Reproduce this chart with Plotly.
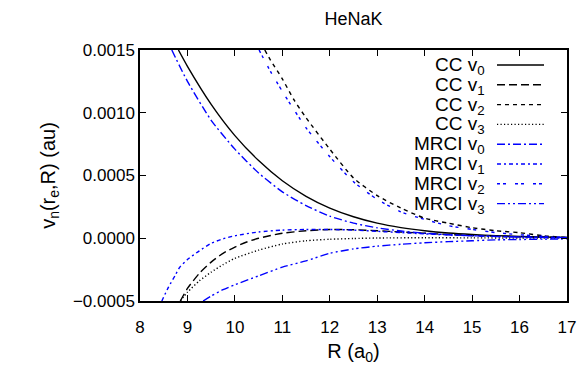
import plotly.graph_objects as go

# ---- data ----
R_cc0 = [8.81, 9.0, 9.5, 10.0, 10.5, 11.0, 11.5, 12.0, 12.5, 13.0, 13.5, 14.0, 14.5, 15.0, 15.5, 16.0, 16.5, 17.0]
v_cc0 = [0.0015, 0.00137, 0.001067, 0.000818, 0.000619, 0.000458, 0.000334, 0.00024, 0.000171, 0.00012, 0.000085, 0.00006, 0.000042, 0.00003, 0.000021, 0.000015, 0.00001, 0.000007]

R_cc1 = [8.85, 9.0, 9.25, 9.5, 9.75, 10.0, 10.25, 10.5, 11.0, 11.5, 12.0, 12.5, 13.0, 13.5, 14.0, 14.5, 15.0, 16.0, 17.0]
v_cc1 = [-0.0005, -0.0004, -0.00028, -0.00019, -0.00012, -0.00007, -0.00003, 0.0, 0.00004, 0.00006, 0.00007, 0.000068, 0.00006, 0.00005, 0.00004, 0.00003, 0.000022, 0.000012, 0.000006]

R_cc2 = [10.63, 10.75, 11.0, 11.25, 11.5, 12.0, 12.5, 13.0, 13.5, 14.0, 14.5, 15.0, 15.5, 16.0, 16.5, 17.0]
v_cc2 = [0.0015, 0.00142, 0.00127, 0.0011, 0.00096, 0.00071, 0.00048, 0.00034, 0.00024, 0.00016, 0.00012, 0.000084, 0.00006, 0.000044, 0.00002, 0.000005]

R_cc3 = [8.85, 9.0, 9.25, 9.5, 9.75, 10.0, 10.5, 11.0, 11.5, 12.0, 12.5, 13.0, 14.0, 15.0, 16.0, 17.0]
v_cc3 = [-0.0005, -0.00043, -0.00034, -0.00027, -0.00021, -0.00016, -0.000095, -0.000046, -0.00002, -0.000008, -0.000002, 0.000002, 0.000004, 0.000003, 0.000002, 0.000001]

R_mr0 = [8.67, 9.0, 9.5, 10.0, 10.5, 11.0, 11.5, 12.0, 12.5, 13.0, 13.5, 14.0, 14.5, 15.0, 15.5, 16.0, 16.5, 17.0]
v_mr0 = [0.0015, 0.00125, 0.00094, 0.00071, 0.00052, 0.00037, 0.00026, 0.000176, 0.00012, 0.000083, 0.000058, 0.00004, 0.000028, 0.00002, 0.000014, 0.00001, 0.000007, 0.000005]

R_mr1 = [8.46, 8.6, 8.75, 8.84, 9.0, 9.25, 9.5, 9.75, 10.0, 10.5, 11.0, 11.5, 12.0, 12.5, 13.0, 13.5, 14.0, 15.0, 16.0, 17.0]
v_mr1 = [-0.0005, -0.00039, -0.00029, -0.00023, -0.00017, -0.0001, -0.00004, -0.000005, 0.00002, 0.00005, 0.000065, 0.00007, 0.00007, 0.000065, 0.000055, 0.000045, 0.000035, 0.00002, 0.00001, 0.000005]

R_mr2 = [10.51, 10.75, 11.0, 11.5, 12.0, 12.5, 13.0, 13.5, 14.0, 14.5, 15.0, 15.5, 16.0, 16.5, 17.0]
v_mr2 = [0.0015, 0.00133, 0.00117, 0.00088, 0.00065, 0.00045, 0.00031, 0.00021, 0.00015, 0.0001, 0.00007, 0.000045, 0.000028, 0.000015, 0.000005]

R_mr3 = [9.33, 9.5, 9.75, 10.0, 10.5, 11.0, 11.5, 12.0, 12.5, 13.0, 13.5, 14.0, 14.5, 15.0, 15.5, 16.0, 16.5, 17.0]
v_mr3 = [-0.0005, -0.00046, -0.00041, -0.00037, -0.0003, -0.00023, -0.00018, -0.00012, -0.000085, -0.000063, -0.000048, -0.000036, -0.000027, -0.00002, -0.000013, -0.00001, -0.000007, -0.000005]

labels = ["CC v<sub>0</sub>", "CC v<sub>1</sub>", "CC v<sub>2</sub>", "CC v<sub>3</sub>",
          "MRCI v<sub>0</sub>", "MRCI v<sub>1</sub>", "MRCI v<sub>2</sub>", "MRCI v<sub>3</sub>"]

BLUE = "#0000ff"
BLACK = "#000000"
series = [
    (R_cc0, v_cc0, BLACK, "solid"),
    (R_cc1, v_cc1, BLACK, "8px,4px"),
    (R_cc2, v_cc2, BLACK, "4px,4px"),
    (R_cc3, v_cc3, BLACK, "1.2px,2.3px"),
    (R_mr0, v_mr0, BLUE, "8px,3px,2px,3px"),
    (R_mr1, v_mr1, BLUE, "4px,3px,2px,3px"),
    (R_mr2, v_mr2, BLUE, "3px,3px,3px,9px"),
    (R_mr3, v_mr3, BLUE, "8px,3px,2px,3px,2px,3px"),
]

fig = go.Figure()
for (x, y, c, d), lab in zip(series, labels):
    fig.add_trace(go.Scatter(x=x, y=y, mode="lines", name=lab, showlegend=False,
                             line=dict(color=c, dash=d, width=1.4, shape="spline", smoothing=0.6)))

FAM = "Liberation Sans, Arial, sans-serif"
FONT = dict(family=FAM, size=17, color="black")
LFONT = dict(family=FAM, size=19, color="black")

# manual gnuplot-style legend (label on left, sample on right)
L, W = 140, 427
T, H = 50, 251
def px(xp):
    return (xp - L) / W
def py(yp):
    return (T + H - yp) / H

for i, ((x, y, c, d), lab) in enumerate(zip(series, labels)):
    yy = 65 + 19.8 * i
    fig.add_shape(type="line", xref="paper", yref="paper",
                  x0=px(497), x1=px(544), y0=py(yy), y1=py(yy),
                  line=dict(color=c, dash=d, width=1.4))
    fig.add_annotation(xref="paper", yref="paper", x=px(487), y=py(yy + 1),
                       xanchor="right", yanchor="middle", text=lab, showarrow=False,
                       font=LFONT, bgcolor="rgba(255,255,255,0)")

fig.update_layout(
    width=584, height=365,
    margin=dict(l=L, r=584 - L - W, t=T, b=365 - T - H, autoexpand=False),
    paper_bgcolor="white", plot_bgcolor="white",
    font=FONT,
    title=dict(text="HeNaK", x=(L + W / 2) / 584, xanchor="center", y=1 - 19 / 365, yanchor="middle",
               font=dict(family=FAM, size=18)),
    showlegend=False,
)
fig.update_xaxes(range=[8, 17], dtick=1, tick0=8, ticks="inside", ticklen=6, tickwidth=1.2,
                 tickcolor="black", showline=True, linecolor="black", linewidth=1.5, mirror="ticks",
                 showgrid=False, zeroline=False, ticklabelstandoff=10, automargin=False,
                 title=dict(text="R (a<sub>0</sub>)", standoff=12),
                 tickfont=FONT)
fig.update_yaxes(range=[-0.0005, 0.0015], dtick=0.0005, tick0=0, ticks="inside", ticklen=6, tickwidth=1.2,
                 tickcolor="black", showline=True, linecolor="black", linewidth=1.5, mirror="ticks",
                 showgrid=False, zeroline=False, tickformat=".4f", automargin=False,
                 title=dict(text="v<sub>n</sub>(r<sub>e</sub>,R) (au)", standoff=12),
                 tickfont=FONT)

fig.write_html("out.html")
